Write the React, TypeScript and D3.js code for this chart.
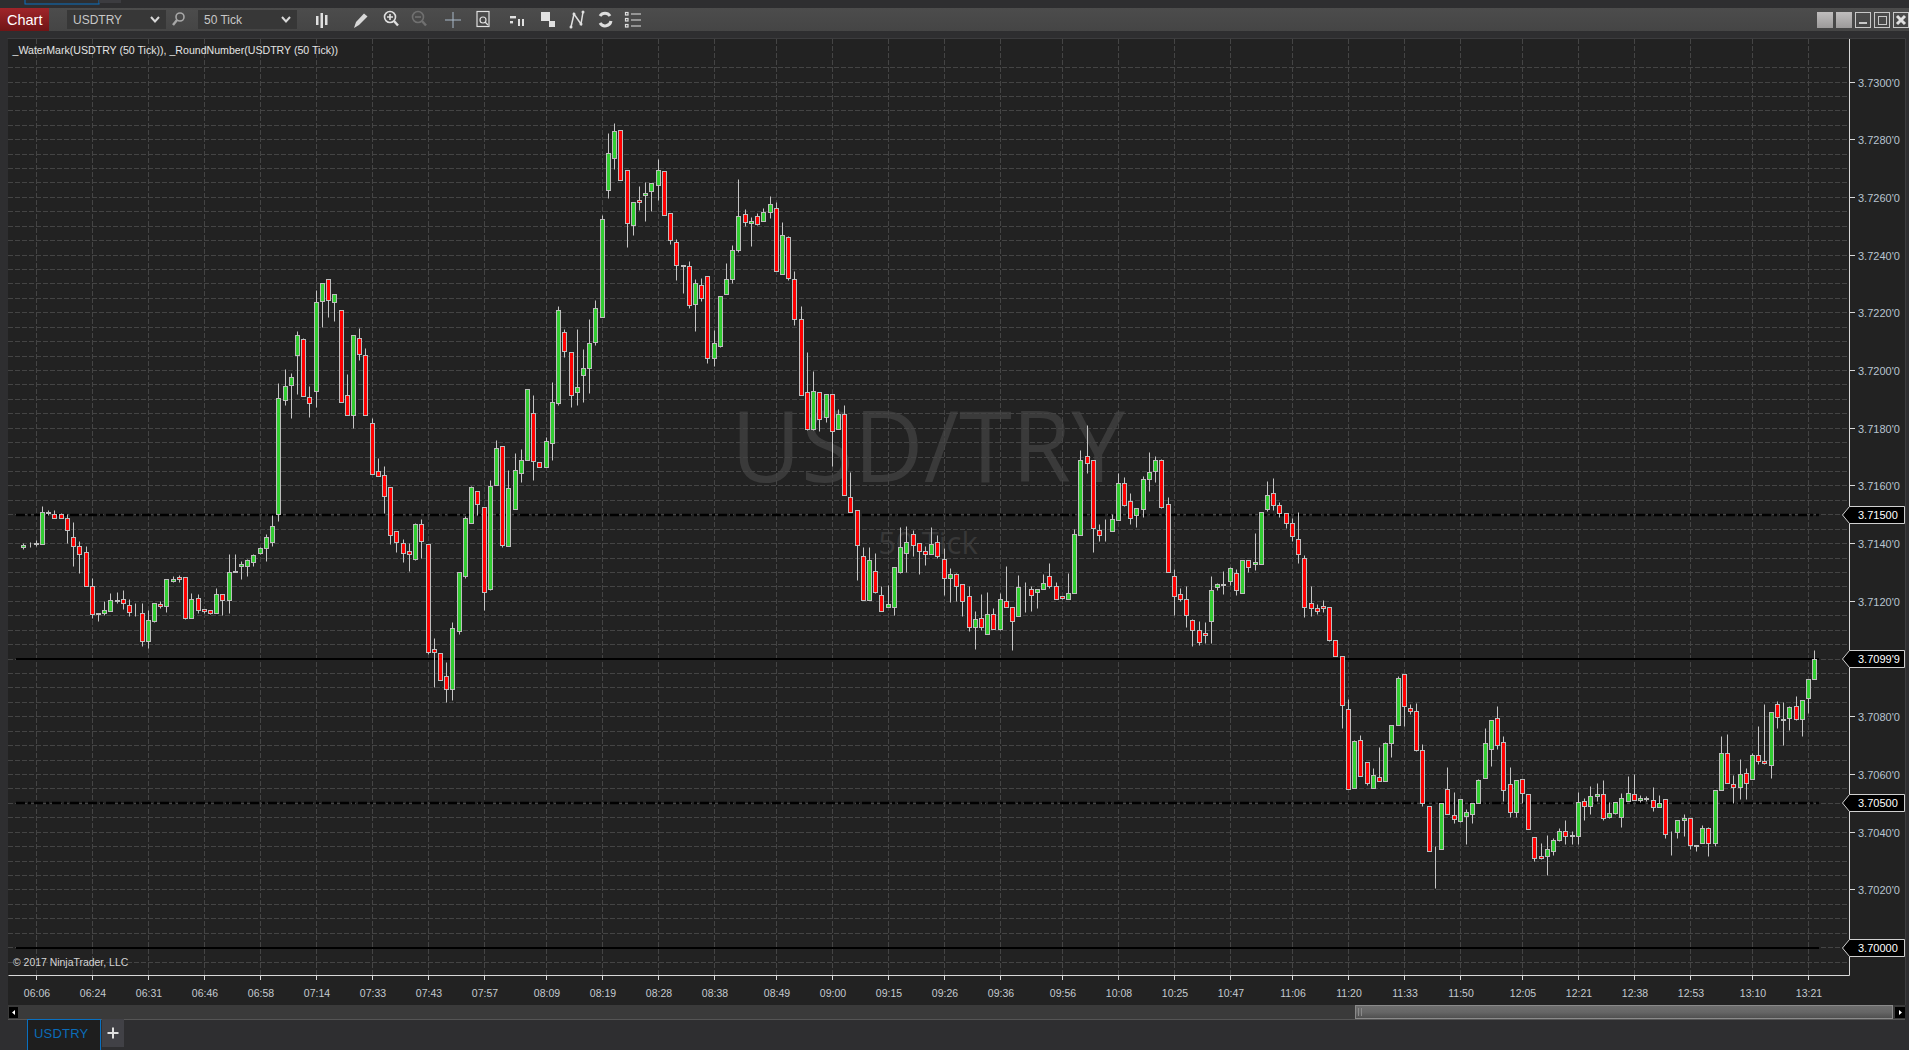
import React, { useEffect, useRef } from 'react';
import * as d3 from 'd3';

// prices are stored as points above 3.70000 (1 point = 0.00001)
const basePrice = 3.7;
const pointSize = 0.00001;

const opens = [
  1387,1404,1396,1396,1504,1502,1502,1486,1422,1391,1370,1252,1158,1158,1165,1199,1207,1186,1193,1158,
  1061,1131,1188,1183,1269,1283,1283,1141,1210,1172,1169,1158,1224,1204,1301,1321,1321,1335,1365,1384,
  1404,1502,1897,1948,2051,2108,1907,1928,2240,2316,2236,2208,1914,1845,2111,2052,1817,1650,1637,1595,
  1443,1401,1373,1344,1467,1398,1034,1020,940,895,1096,1287,1470,1581,1526,1242,1602,1737,1391,1519,
  1644,1689,1851,1682,1664,1748,1886,2132,2063,1924,1983,2007,2097,2184,2624,2735,2832,2693,2503,2590,
  2607,2621,2641,2690,2544,2444,2364,2361,2229,2295,2326,2042,2084,2264,2316,2416,2541,2510,2534,2517,
  2548,2562,2333,2461,2316,2177,1924,1796,1924,1838,1917,1796,1848,1560,1515,1356,1204,1304,1221,1179,
  1179,1301,1366,1432,1401,1373,1363,1404,1346,1280,1294,1259,1217,1110,1141,1086,1155,1103,1200,1179,
  1148,1242,1242,1231,1242,1287,1252,1217,1207,1228,1429,1702,1689,1446,1450,1443,1481,1609,1547,1498,
  1519,1623,1650,1689,1536,1287,1224,1207,1134,1100,1089,1131,1248,1256,1269,1297,1228,1342,1328,1328,
  1519,1574,1533,1505,1470,1415,1349,1193,1176,1183,1179,1065,1009,826,552,718,642,552,590,576,
  708,770,947,829,819,684,490,334,341,549,459,438,455,462,500,587,687,795,711,566,
  469,583,531,382,316,316,334,372,403,386,386,507,490,524,531,452,465,452,507,531,
  511,514,511,486,514,394,400,441,448,350,362,413,362,545,673,566,556,604,583,666,
  646,632,843,788,795,836,791,864,930,
];
const highs = [
  1401,1404,1411,1530,1516,1516,1506,1502,1475,1409,1392,1281,1158,1201,1228,1232,1239,1205,1193,1194,
  1170,1193,1198,1276,1287,1290,1283,1228,1224,1172,1169,1246,1224,1361,1364,1339,1346,1363,1387,1432,
  1498,1955,2002,1990,2136,2111,1946,2278,2302,2316,2264,2208,1987,2122,2147,2077,1834,1697,1668,1595,
  1443,1415,1401,1470,1484,1398,1072,1020,989,1127,1301,1495,1598,1581,1526,1620,1759,1737,1655,1713,
  1727,1935,1912,1682,1768,1960,2222,2144,2063,2144,2074,2177,2244,2538,2822,2856,2832,2693,2583,2638,
  2652,2648,2732,2690,2544,2454,2364,2378,2316,2319,2326,2139,2257,2371,2434,2662,2558,2531,2544,2562,
  2603,2583,2513,2465,2343,2222,2063,1997,1924,1917,1917,1865,1879,1647,1515,1387,1387,1366,1252,1255,
  1318,1456,1460,1446,1401,1391,1456,1429,1384,1314,1297,1259,1252,1165,1225,1231,1176,1228,1321,1179,
  1290,1266,1252,1242,1294,1332,1266,1217,1297,1450,1723,1808,1689,1467,1484,1502,1644,1630,1574,1522,
  1633,1716,1702,1692,1560,1311,1245,1252,1138,1131,1127,1287,1262,1304,1318,1311,1342,1342,1436,1508,
  1616,1626,1543,1505,1488,1508,1359,1252,1190,1204,1179,1065,1009,860,718,736,642,621,694,711,
  770,940,947,843,847,705,490,351,500,625,538,514,479,500,583,760,788,836,732,625,
  580,583,531,382,362,389,379,413,441,403,538,517,559,569,580,504,504,535,595,601,
  528,524,556,528,514,401,441,463,448,355,424,417,545,733,739,597,653,621,673,768,
  844,815,854,848,836,872,857,930,1031,
];
const lows = [
  1379,1386,1392,1396,1497,1486,1486,1399,1320,1296,1252,1141,1130,1150,1165,1193,1173,1147,1147,1043,
  1036,1126,1175,1161,1265,1265,1137,1141,1158,1158,1154,1158,1150,1157,1301,1275,1286,1320,1363,1337,
  1389,1476,1878,1833,1916,1910,1836,1871,2148,2183,2169,1890,1845,1798,2034,1845,1640,1633,1505,1396,
  1369,1334,1303,1341,1348,1016,901,926,849,856,1085,1280,1470,1497,1170,1237,1602,1386,1391,1519,
  1611,1689,1618,1664,1664,1690,1879,2044,1871,1879,1888,1922,2087,2184,2595,2697,2659,2426,2469,2556,
  2516,2550,2591,2538,2436,2311,2266,2214,2134,2238,2024,2013,2080,2264,2301,2409,2498,2429,2502,2517,
  2526,2343,2333,2312,2155,1914,1793,1793,1789,1819,1667,1796,1567,1508,1272,1204,1204,1227,1165,1179,
  1150,1297,1301,1356,1292,1326,1363,1349,1220,1195,1200,1147,1095,1033,1098,1086,1103,1100,1179,1030,
  1148,1161,1165,1175,1242,1245,1207,1207,1207,1228,1429,1644,1369,1407,1407,1443,1481,1529,1466,1455,
  1491,1581,1612,1522,1301,1150,1200,1109,1043,1048,1055,1055,1238,1224,1256,1221,1228,1301,1307,1328,
  1512,1515,1491,1453,1406,1331,1143,1147,1156,1163,1061,1009,759,549,552,594,562,552,576,576,
  658,770,766,807,680,489,334,204,341,462,430,434,359,430,500,587,627,687,505,450,
  450,498,410,298,306,249,319,368,359,359,359,440,463,508,440,448,462,415,507,511,
  504,507,471,486,377,321,377,385,341,333,362,315,350,545,569,498,515,512,583,635,
  635,586,761,702,754,788,731,810,930,
];
const closes = [
  1395,1404,1401,1508,1507,1486,1486,1446,1391,1363,1252,1155,1154,1169,1204,1204,1193,1162,1193,1061,
  1134,1193,1183,1276,1276,1276,1141,1207,1169,1165,1158,1224,1204,1301,1304,1328,1342,1359,1384,1422,
  1460,1903,1945,1976,2122,1910,1886,2236,2302,2243,2264,1890,1845,2122,2056,1845,1640,1633,1564,1429,
  1404,1366,1363,1467,1408,1023,1023,926,895,1106,1301,1488,1595,1536,1231,1598,1730,1394,1592,1654,
  1689,1935,1685,1664,1754,1890,2208,2066,1914,1942,2007,2094,2215,2524,2752,2829,2659,2510,2583,2583,
  2614,2648,2693,2538,2451,2364,2361,2226,2302,2250,2042,2094,2257,2316,2416,2534,2513,2517,2506,2548,
  2576,2343,2468,2319,2177,1914,1796,1928,1831,1917,1789,1848,1567,1508,1394,1204,1342,1231,1165,1190,
  1318,1387,1404,1394,1373,1363,1398,1356,1280,1294,1252,1200,1109,1138,1110,1155,1103,1207,1179,1131,
  1249,1242,1221,1242,1262,1252,1207,1210,1228,1432,1689,1678,1453,1429,1450,1484,1609,1533,1488,1522,
  1623,1647,1689,1526,1301,1217,1207,1152,1100,1058,1082,1238,1259,1259,1314,1238,1342,1318,1335,1508,
  1567,1533,1505,1470,1425,1363,1179,1176,1165,1176,1065,1009,840,549,715,594,569,597,576,708,
  770,933,836,819,684,500,334,334,500,462,445,514,469,500,580,708,788,701,545,469,
  580,535,410,310,310,341,372,403,386,389,504,490,524,531,448,465,504,517,535,511,
  517,517,486,500,394,394,441,448,355,355,413,362,545,673,569,556,601,569,666,646,
  639,815,798,791,833,791,857,930,999,
];

// x axis: bar index of each time label
const timeTicks = [2,11,20,29,38,47,56,65,74,84,93,102,111,121,130,139,148,157,167,176,185,194,204,213,222,231,241,250,259,268,278,287];
const timeLabels = ['06:06','06:24','06:31','06:46','06:58','07:14','07:33','07:43','07:57','08:09','08:19','08:28','08:38','08:49','09:00','09:15','09:26','09:36','09:56','10:08','10:25','10:47','11:06','11:20','11:33','11:50','12:05','12:21','12:38','12:53','13:10','13:21'];

const priceLabels = [3.73,3.728,3.726,3.724,3.722,3.72,3.718,3.716,3.714,3.712,3.708,3.706,3.704,3.702];
const solidLevels = [3.71,3.7];
const dashedLevels = [3.715,3.705];
const flagLevels = [
  { price: 3.715, text: '3.71500' },
  { price: 3.70999, text: "3.7099'9" },
  { price: 3.705, text: '3.70500' },
  { price: 3.7, text: '3.70000' },
];

const SANS = '"Liberation Sans", Arial, sans-serif';
const BG = '#222222';
const FRAME = '#2e2e30';
const GRID = '#444444';
const UP = '#32cd32';
const DOWN = '#ff0000';

const Chart = () => {
  const ref = useRef<SVGGElement | null>(null);

  useEffect(() => {
    if (!ref.current) return;
    const g = d3.select(ref.current);
    g.selectAll('*').remove();

    const x = d3.scaleLinear().domain([0, 288]).range([23.9, 1814.7]);
    const y = d3.scaleLinear().domain([3.7, 3.73]).range([947.7, 82]);
    const px = (i: number) => Math.round(x(i) - 0.5) + 0.5;
    const py = (p: number) => Math.round(y(p) - 0.5) + 0.5;
    const price = (pts: number) => basePrice + pts * pointSize;

    // watermark
    g.append('text').text('USD/TRY')
      .attr('x', 928).attr('y', 482).attr('text-anchor', 'middle')
      .attr('font-family', '"Open Sans"').attr('font-size', 98)
      .attr('textLength', 394).attr('lengthAdjust', 'spacingAndGlyphs')
      .attr('fill', '#3a3a3a');
    g.append('text').text('50 Tick')
      .attr('x', 928).attr('y', 554).attr('text-anchor', 'middle')
      .attr('font-family', '"Open Sans"').attr('font-size', 31)
      .attr('fill', '#383838');

    // grid
    const gridPrices = d3.range(-1, 62).map(k => 3.7 + k * 0.0005);
    g.append('g').selectAll('line').data(gridPrices).join('line')
      .attr('x1', 8).attr('x2', 1849)
      .attr('y1', d => py(d)).attr('y2', d => py(d))
      .attr('stroke', GRID).attr('stroke-dasharray', '5 2');
    g.append('g').selectAll('line').data(timeTicks).join('line')
      .attr('x1', d => px(d)).attr('x2', d => px(d))
      .attr('y1', 39).attr('y2', 975)
      .attr('stroke', GRID).attr('stroke-dasharray', '5 2');

    // round number lines
    g.append('g').selectAll('line').data(solidLevels).join('line')
      .attr('x1', 16).attr('x2', 1819)
      .attr('y1', d => Math.round(y(d))).attr('y2', d => Math.round(y(d)))
      .attr('stroke', '#000').attr('stroke-width', 2);
    g.append('g').selectAll('line').data(dashedLevels).join('line')
      .attr('x1', 16).attr('x2', 1819)
      .attr('y1', d => Math.round(y(d))).attr('y2', d => Math.round(y(d)))
      .attr('stroke', '#000').attr('stroke-width', 2.5).attr('stroke-dasharray', '9 3 3 3');

    // candles
    const bars = g.append('g').selectAll('g').data(opens).join('g');
    bars.append('line')
      .attr('x1', (_, i) => px(i)).attr('x2', (_, i) => px(i))
      .attr('y1', (_, i) => py(price(highs[i]))).attr('y2', (_, i) => py(price(lows[i])))
      .attr('stroke', '#c4c4c4');
    bars.append('rect')
      .attr('x', (_, i) => px(i) - 2).attr('width', 4)
      .attr('y', (_, i) => py(price(Math.max(opens[i], closes[i]))))
      .attr('height', (_, i) => py(price(Math.min(opens[i], closes[i]))) - py(price(Math.max(opens[i], closes[i]))))
      .attr('fill', (_, i) => (closes[i] >= opens[i] ? UP : DOWN))
      .attr('stroke', '#bdbdbd');

    // frame around the axes
    g.append('path').attr('d', 'M8.5 975.5H1849.5V39').attr('fill', 'none').attr('stroke', '#d8d8d8');

    // x axis
    g.append('g').selectAll('line').data(timeTicks).join('line')
      .attr('x1', d => px(d)).attr('x2', d => px(d)).attr('y1', 975).attr('y2', 980)
      .attr('stroke', '#d8d8d8');
    g.append('g').selectAll('text').data(timeLabels).join('text')
      .text(d => d)
      .attr('x', (_, i) => px(timeTicks[i]) + 0.5).attr('y', 997).attr('text-anchor', 'middle')
      .attr('font-family', SANS).attr('font-size', 10.5).attr('fill', '#c4cad0');

    // y axis
    g.append('g').selectAll('line').data(priceLabels).join('line')
      .attr('x1', 1849).attr('x2', 1855).attr('y1', d => py(d)).attr('y2', d => py(d))
      .attr('stroke', '#d8d8d8');
    g.append('g').selectAll('text').data(priceLabels).join('text')
      .text(d => `${d.toFixed(4)}'0`)
      .attr('x', 1858).attr('y', d => py(d) + 4).attr('font-family', SANS).attr('font-size', 11)
      .attr('fill', '#b8c4d0');

    // flags
    const flags = g.append('g').selectAll('g').data(flagLevels).join('g')
      .attr('transform', d => `translate(0,${Math.round(y(d.price))})`);
    flags.append('path').attr('d', 'M1842.5 0L1849.5 -8.5H1904.5V8.5H1849.5Z')
      .attr('fill', '#000').attr('stroke', '#d0d0d0');
    flags.append('text').text(d => d.text)
      .attr('x', 1858).attr('y', 4).attr('font-family', SANS).attr('font-size', 11).attr('fill', '#fff');

    // texts
    g.append('text').text('_WaterMark(USDTRY (50 Tick)), _RoundNumber(USDTRY (50 Tick))')
      .attr('x', 12.5).attr('y', 54).attr('font-family', SANS).attr('font-size', 10.6).attr('fill', '#e4e4e4');
    g.append('text').text('© 2017 NinjaTrader, LLC')
      .attr('x', 13).attr('y', 966).attr('font-family', SANS).attr('font-size', 10.45).attr('fill', '#d4d4d4');
  }, []);

  return <g ref={ref}></g>;
};

const Chevron = ({ x }: { x: number }) => (
  <path d={`M${x - 4} 17L${x} 21.5L${x + 4} 17`} fill="none" stroke="#d8d8d8" strokeWidth={2} />
);

const Toolbar = () => (
  <g>
    <defs>
      <linearGradient id="bar" x1="0" x2="0" y1="0" y2="1">
        <stop offset="0" stopColor="#4c4c4c" />
        <stop offset="1" stopColor="#454545" />
      </linearGradient>
      <linearGradient id="red" x1="0" x2="0" y1="0" y2="1">
        <stop offset="0" stopColor="#a0252a" />
        <stop offset="1" stopColor="#701516" />
      </linearGradient>
      <linearGradient id="btn" x1="0" x2="0" y1="0" y2="1">
        <stop offset="0" stopColor="#c0bebe" />
        <stop offset="1" stopColor="#9c9a9a" />
      </linearGradient>
      <linearGradient id="thumb" x1="0" x2="0" y1="0" y2="1">
        <stop offset="0" stopColor="#6e6e6e" />
        <stop offset="0.5" stopColor="#666" />
        <stop offset="1" stopColor="#4e4e4e" />
      </linearGradient>
    </defs>
    <rect x={25} y={-2} width={74} height={6} fill="none" stroke="#0a70c0" />
    <rect x={99} y={0} width={22} height={3} fill="#3c3c40" />
    <rect x={0} y={8} width={1909} height={23} fill="url(#bar)" />
    <rect x={0} y={8} width={49} height={23} fill="url(#red)" />
    <text x={7} y={24.5} fontFamily={SANS} fontSize={14.5} fill="#fff">Chart</text>
    <rect x={67} y={10} width={99} height={19} fill="#373737" />
    <text x={73} y={24} fontFamily={SANS} fontSize={12} fill="#c8c8c8">USDTRY</text>
    <Chevron x={155} />
    <g fill="none" stroke="#a8a8a8" strokeWidth={1.6}>
      <circle cx={180} cy={17} r={4} />
      <path d="M177 20L173 25" strokeWidth={2.4} />
    </g>
    <rect x={198} y={10} width={99} height={19} fill="#373737" />
    <text x={204} y={24} fontFamily={SANS} fontSize={12} fill="#c8c8c8">50 Tick</text>
    <Chevron x={286} />
    {/* toolbar icons */}
    <g fill="#e0e0e0" stroke="none">
      <rect x={316} y={16} width={2.5} height={9} />
      <rect x={320.5} y={13} width={2.5} height={15} />
      <rect x={325} y={15} width={2.5} height={10} />
      <path d="M354 28L356 22L364 13.5L367.5 16.5L359 25Z" fill="#d8d8d8" />
      <rect x={510} y={16} width={6} height={2.4} />
      <rect x={510} y={21} width={3} height={2.4} />
      <rect x={518} y={19} width={2} height={7} />
      <rect x={522} y={19} width={2} height={7} />
      <rect x={541} y={12} width={9} height={9} />
      <rect x={549} y={21} width={6} height={6} />
      <path d="M571 27L574 14L581 24L583 12" fill="none" stroke="#e0e0e0" strokeWidth={1.5} />
      <circle cx={571} cy={27} r={1.5} />
      <circle cx={574} cy={14} r={1.5} />
      <circle cx={581} cy={24} r={1.5} />
      <circle cx={583} cy={12} r={1.5} />
    </g>
    <g fill="none" stroke="#e0e0e0" strokeWidth={1.6}>
      <circle cx={390} cy={17} r={5.5} />
      <path d="M394 21L398 25.5" strokeWidth={2.4} />
      <path d="M387 17H393M390 14V20" />
      <rect x={477} y={11.5} width={12} height={15} strokeWidth={1.2} />
      <circle cx={483} cy={20} r={3} strokeWidth={1.2} />
      <path d="M485 22L488 25" strokeWidth={1.2} />
      <path d="M600 16A6 6 0 0 1 610 16M611 21A6 6 0 0 1 600 23" strokeWidth={3} />
    </g>
    <g fill="none" stroke="#707070" strokeWidth={1.6}>
      <circle cx={418} cy={17} r={5.5} />
      <path d="M422 21L426 25.5" strokeWidth={2.4} />
      <path d="M415 17H421" />
    </g>
    <path d="M445 20H461M453 12V28" stroke="#a8b8c8" fill="none" />
    <g fill="none" stroke="#e0e0e0" strokeWidth={1.2}>
      <rect x={625.5} y={12.5} width={2.5} height={2.5} />
      <rect x={625.5} y={18.5} width={2.5} height={2.5} />
      <rect x={625.5} y={24.5} width={2.5} height={2.5} />
      <path d="M631 14H641M631 20H641M631 26H641" />
    </g>
    {/* window buttons */}
    <rect x={1817} y={12} width={16} height={16} fill="url(#btn)" />
    <rect x={1836} y={12} width={16} height={16} fill="url(#btn)" />
    <g fill="none" stroke="#c8c8c8">
      <rect x={1855.5} y={12.5} width={15} height={15} />
      <rect x={1874.5} y={12.5} width={15} height={15} />
      <rect x={1893.5} y={12.5} width={15} height={15} />
      <path d="M1859 23H1867" strokeWidth={2} />
      <rect x={1878.5} y={16.5} width={8} height={8} />
      <path d="M1897 16L1905 24M1905 16L1897 24" strokeWidth={3} stroke="#e0e0e0" />
    </g>
  </g>
);

const Bottom = () => (
  <g>
    <rect x={8} y={1005} width={1897} height={14} fill="#3a3a3a" />
    <rect x={8} y={1019} width={1897} height={1} fill="#555" />
    <rect x={9} y={1007} width={9} height={11} fill="#000" />
    <path d="M15 1010V1015L12 1012.5Z" fill="#fff" />
    <rect x={1355.5} y={1005.5} width={537} height={13} fill="url(#thumb)" stroke="#8a8a8a" />
    <path d="M1358.5 1008V1016M1361.5 1008V1016" stroke="#8a8a8a" />
    <rect x={1895} y={1007} width={10} height={11} fill="#000" />
    <path d="M1899 1010V1015L1902 1012.5Z" fill="#fff" />
    <rect x={27.5} y={1019.5} width={73} height={31} fill="#1e1e1e" stroke="#0a70c0" />
    <text x={34} y={1038} fontFamily={SANS} fontSize={13} letterSpacing={0.2} fill="#0b6cb8">USDTRY</text>
    <rect x={102} y={1019} width={22} height={28} fill="#414146" />
    <path d="M107.5 1033H118.5M113 1027.5V1038.5" stroke="#e0e0e0" strokeWidth={2} />
  </g>
);

export default function App() {
  return (
    <div style={{ position: 'fixed', left: 0, top: 0, width: 1909, height: 1050, overflow: 'hidden' }}>
      <svg width={1909} height={1050} style={{ display: 'block', background: FRAME }}>
        <Toolbar />
        <rect x={8} y={38} width={1897} height={967} fill={BG} />
        <path d="M7.5 38.5H1905.5V1005" fill="none" stroke="#3c3c3e" />
        <Chart />
        <Bottom />
      </svg>
    </div>
  );
}
